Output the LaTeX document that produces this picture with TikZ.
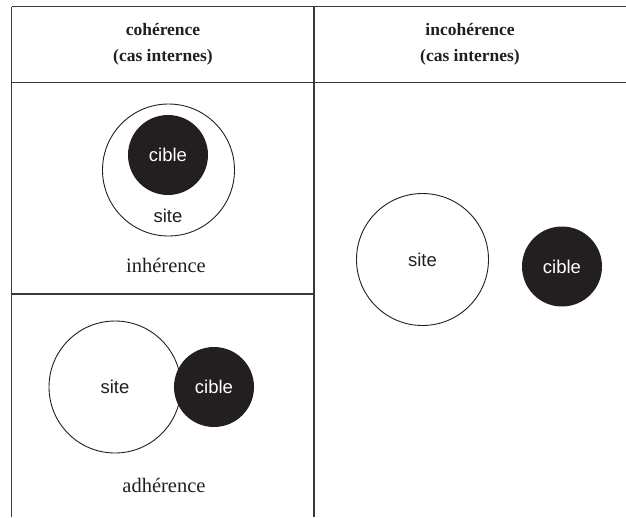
\documentclass[tikz,border=0pt]{standalone}
\usepackage{fontspec}
\setmainfont{Liberation Serif}
\setsansfont{Liberation Sans}
\definecolor{ink}{HTML}{231F20}
\definecolor{rule}{HTML}{3A3A3A}
\tikzset{
  tablerule/.style={draw=rule, line width=1.1pt},
  sitecircle/.style={circle, draw=ink, line width=0.9pt, fill=white, inner sep=0pt, minimum size=132pt},
  ciblecircle/.style={circle, fill=ink, draw=none, inner sep=0pt, minimum size=80pt, text=white, font=\sffamily\fontsize{18.5}{20}\selectfont},
  sanslabel/.style={text=ink, inner sep=0pt, font=\sffamily\fontsize{18.5}{20}\selectfont},
  caption/.style={text=ink, inner sep=0pt, font=\fontsize{20.5}{24}\selectfont},
  header/.style={text=ink, inner sep=0pt, align=center, font=\bfseries\fontsize{17.5}{26}\selectfont}
}
\begin{document}
\begin{tikzpicture}[x=1pt, y=-1pt]
\useasboundingbox (0,0) rectangle (626,517);
% table rules
\coordinate (tl) at (11.5,6.5);
\coordinate (tr) at (626,6.5);
\coordinate (hl) at (11.5,82.5);
\coordinate (hr) at (626,82.5);
\coordinate (mt) at (314,6.5);
\coordinate (mb) at (314,517);
\coordinate (lb) at (11.5,517);
\coordinate (ml) at (11.5,294);
\coordinate (mm) at (314,294);
\draw[tablerule] (tl) -- (tr);
\draw[tablerule] (hl) -- (hr);
\draw[tablerule] (tl) -- (lb);
\draw[tablerule] (mt) -- (mb);
\draw[tablerule] (ml) -- (mm);
% headers
\node[header] (h1) at (163,44) {cohérence\\(cas internes)};
\node[header] (h2) at (470,44) {incohérence\\(cas internes)};
% inherence
\node[sitecircle] (site1) at (168.5,170) {};
\node[ciblecircle] (cible1) at (168,155) {cible};
\node[sanslabel] (sitelab1) at (168,216) {site};
\node[caption] (cap1) at (166,265) {inhérence};
% adherence
\node[sitecircle] (site2) at (115,387) {};
\node[sanslabel] (sitelab2) at (115,387) {site};
\node[ciblecircle] (cible2) at (214,387) {cible};
\node[caption] (cap2) at (164,485) {adhérence};
% incoherence
\node[sitecircle] (site3) at (422.5,259.5) {};
\node[sanslabel] (sitelab3) at (422.5,259.5) {site};
\node[ciblecircle] (cible3) at (562,266.5) {cible};
\end{tikzpicture}
\end{document}
